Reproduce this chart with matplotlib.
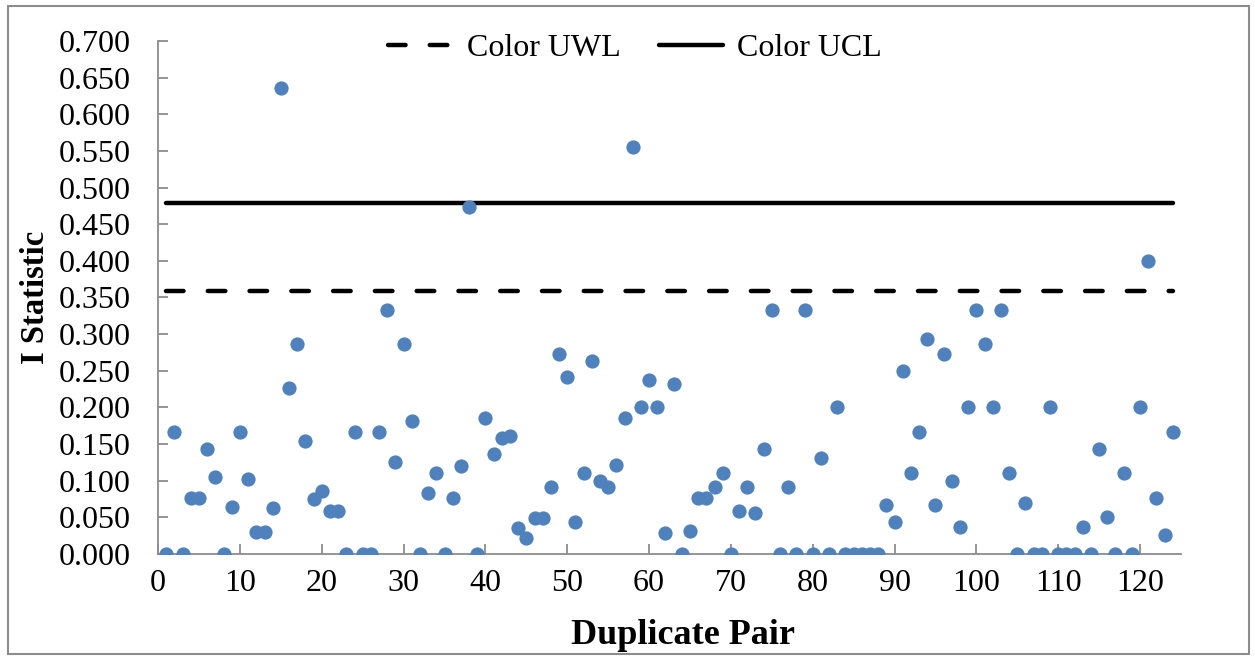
import numpy as np
import matplotlib
matplotlib.use('Agg')
import matplotlib.pyplot as plt
from matplotlib.patches import Rectangle

# I statistic for each duplicate pair (1..124)
pairs = list(range(1, 125))
i_stat = [0.000, 0.167, 0.000, 0.077, 0.077, 0.143, 0.105, 0.000, 0.064, 0.167,
          0.103, 0.030, 0.030, 0.063, 0.636, 0.226, 0.286, 0.154, 0.075, 0.086,
          0.059, 0.059, 0.000, 0.167, 0.000, 0.000, 0.167, 0.333, 0.125, 0.286,
          0.182, 0.000, 0.083, 0.111, 0.000, 0.077, 0.120, 0.474, 0.000, 0.185,
          0.137, 0.158, 0.161, 0.035, 0.022, 0.049, 0.049, 0.091, 0.273, 0.242,
          0.044, 0.111, 0.263, 0.100, 0.091, 0.122, 0.186, 0.556, 0.200, 0.238,
          0.200, 0.029, 0.232, 0.000, 0.032, 0.077, 0.077, 0.091, 0.111, 0.000,
          0.059, 0.091, 0.056, 0.143, 0.333, 0.000, 0.091, 0.000, 0.333, 0.000,
          0.131, 0.000, 0.200, 0.000, 0.000, 0.000, 0.000, 0.000, 0.067, 0.044,
          0.250, 0.111, 0.167, 0.294, 0.067, 0.273, 0.100, 0.037, 0.200, 0.333,
          0.286, 0.200, 0.333, 0.111, 0.000, 0.070, 0.000, 0.000, 0.200, 0.000,
          0.000, 0.000, 0.037, 0.000, 0.143, 0.050, 0.000, 0.111, 0.000, 0.200,
          0.400, 0.077, 0.026, 0.167]

uwl = 0.359
ucl = 0.479

plt.rcParams['font.family'] = ['Liberation Serif', 'DejaVu Serif']

fig = plt.figure(figsize=(12.55, 6.56), dpi=100)
ax = fig.add_axes([0.126, 0.1555, 0.815, 0.782])

ax.plot([pairs[0], pairs[-1]], [uwl, uwl], color='black', lw=3.2,
        linestyle=(0, (3.95, 5.45)), dash_capstyle='round', label='Color UWL')
ax.plot([pairs[0], pairs[-1]], [ucl, ucl], color='black', lw=3.2,
        solid_capstyle='round', label='Color UCL')
ax.scatter(pairs, i_stat, s=105, color='#4F81BD', zorder=3, linewidths=0)

ax.set_xlim(0, 125)
ax.set_ylim(0, 0.7)
ax.set_xticks(np.arange(0, 121, 10))
ax.set_yticks(np.arange(0, 0.701, 0.05))
ax.yaxis.set_major_formatter(matplotlib.ticker.FormatStrFormatter('%.3f'))

for s in ['top', 'right']:
    ax.spines[s].set_visible(False)
for s in ['left', 'bottom']:
    ax.spines[s].set_color('#8c8c8c')
    ax.spines[s].set_linewidth(1.3)
ax.tick_params(direction='in', length=7, width=1.3, color='#8c8c8c',
               labelsize=23, labelcolor='black')
ax.tick_params(axis='y', pad=20)
ax.tick_params(axis='x', pad=11)

ax.set_xlabel('Duplicate Pair', fontsize=26, fontweight='bold', va='center')
ax.set_ylabel('I Statistic', fontsize=23.5, fontweight='bold', va='center')
ax.xaxis.set_label_coords(0.513, -0.158)
ax.yaxis.set_label_coords(-0.120, 0.5)

ax.legend(loc='center', bbox_to_anchor=(635 / 1255, 0.926), bbox_transform=fig.transFigure,
          ncol=2, frameon=False, fontsize=23, handlelength=2.0, handletextpad=0.45,
          columnspacing=1.2, borderpad=0, borderaxespad=0)

fig.patches.append(Rectangle((0.006, 0.003), 0.9895, 0.988, transform=fig.transFigure,
                             fill=False, edgecolor='#8c8c8c', lw=1.5))

fig.savefig('out.png', dpi=100)
